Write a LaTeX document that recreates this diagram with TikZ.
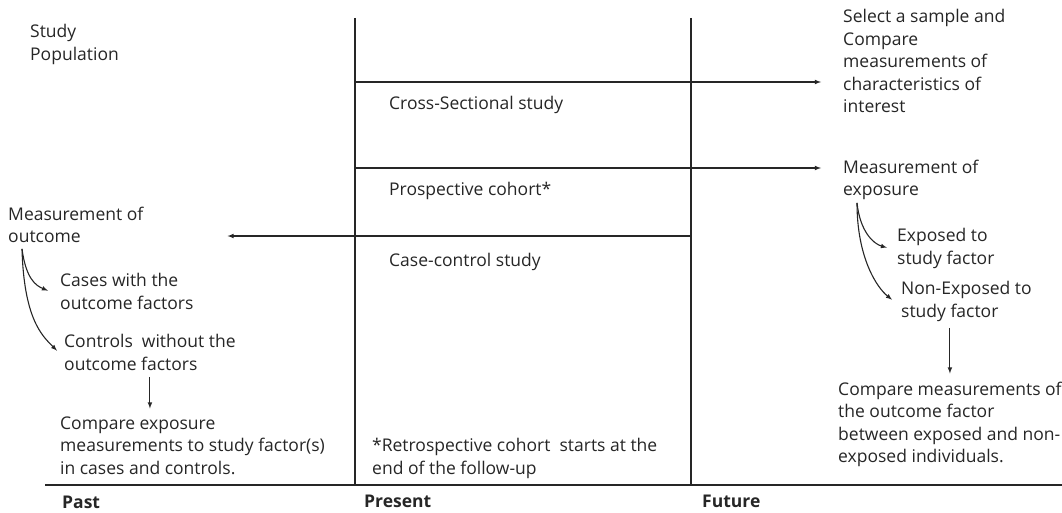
\documentclass[tikz,border=0pt]{standalone}
\usepackage{fontspec}
\setmainfont{Open Sans}
\usetikzlibrary{
arrows,
arrows.meta,
calc,
positioning
}
\tikzset{>=latex}
\definecolor{ink}{HTML}{262626}
\tikzset{
	txt/.style={inner sep=0pt, align=left, text=ink, font=\fontsize{17.5}{22.5}\selectfont},
	era/.style={inner sep=0pt, text=ink, font=\fontsize{17.5}{22.5}\selectfont\bfseries},
	axis/.style={draw=ink, line width=1.2pt},
	conn/.style={->, draw=ink, line width=1.1pt}
}

\begin{document}
\begin{tikzpicture}[x=1pt, y=-1pt]
		\useasboundingbox (0,0) rectangle (1062,513);
		
		\coordinate (presenttop)  at (355,18);
		\coordinate (futuretop)   at (691,18);
		\coordinate (baseleft)    at (45,485);
		\coordinate (baseright)   at (1062,485);
		
		\node[txt, anchor=north west] (studypop) at (30,24.5) {Study\\Population};
		
		\node[txt, anchor=base west]  (crosssec)  at (389,110) {Cross-Sectional study};
		\node[txt, anchor=base west]  (prospect)  at (389,196) {Prospective cohort*};
		\node[txt, anchor=base west]  (casectrl)  at (389,266) {Case-control study};
		\node[txt, anchor=north west] (retro)     at (372,438.5) {*Retrospective cohort\ \ starts at the\\end of the follow-up};
		
		\node[txt, anchor=north west] (selsample) at (843,9.5) {Select a sample and\\Compare\\measurements of\\characteristics of\\interest};
		\node[txt, anchor=north west] (measexp)   at (843,159.5) {Measurement of\\exposure};
		\node[txt, anchor=north west] (exposed)   at (897,228.5) {Exposed to\\study factor};
		\node[txt, anchor=north west] (nonexp)    at (901,281.5) {Non-Exposed to\\study factor};
		\node[txt, anchor=north west] (cmpout)    at (838,381.5) {Compare measurements of\\the outcome factor\\between exposed and non-\\exposed individuals.};
		
		\node[txt, anchor=north west] (measout)   at (8,206.5) {Measurement of\\outcome};
		\node[txt, anchor=north west] (cases)     at (60,273.5) {Cases with the\\outcome factors};
		\node[txt, anchor=north west] (controls)  at (64,334.5) {Controls\ \ without the\\outcome factors};
		\node[txt, anchor=north west] (cmpexp)    at (60,416.5) {Compare exposure\\measurements to study factor(s)\\in cases and controls.};
		
		\node[era, anchor=base west] (past)    at (62,508)  {Past};
		\node[era, anchor=base west] (present) at (364,507) {Present};
		\node[era, anchor=base west] (future)  at (702,507) {Future};
		
		% time axis
		\draw[axis] (presenttop) -- (presenttop |- baseleft);
		\draw[axis] (futuretop) -- (futuretop |- baseleft);
		\draw[axis] (baseleft) -- (baseright);
		
		% study designs
		\draw[conn] (presenttop |- 0,82) -- ($(selsample.west |- 0,82)+(-22,0)$);
		\draw[conn] (presenttop |- 0,168) -- ($(measexp.west |- 0,168)+(-22,0)$);
		\draw[conn] (futuretop |- 0,236) -- ($(measout.east |- 0,236)+(84,0)$);
		
		% branches
		\draw[conn] ($(measexp.south west)+(14,3)$) .. controls +(3,28) and +(-14,-4) .. ($(exposed.west)+(-10,-1)$);
		\draw[conn] ($(measexp.south west)+(14,3)$) .. controls +(0,55) and +(-15,-12) .. ($(nonexp.west)+(-9,-2)$);
		\draw[conn] ($(measout.south west)+(14,6)$) .. controls +(4,30) and +(-12,-5) .. ($(cases.west)+(-12,-1)$);
		\draw[conn] ($(measout.south west)+(14,6)$) .. controls +(2,70) and +(-15,-15) .. ($(controls.west)+(-7,-2)$);
		
		\draw[conn] (cmpout.north |- nonexp.south) ++(0,6) -- ($(cmpout.north)+(0,-8)$);
		\draw[conn] ($(controls.south)+(0,6)$) -- ($(controls.south |- cmpexp.north)+(0,-8)$);
	\end{tikzpicture}
\end{document}
